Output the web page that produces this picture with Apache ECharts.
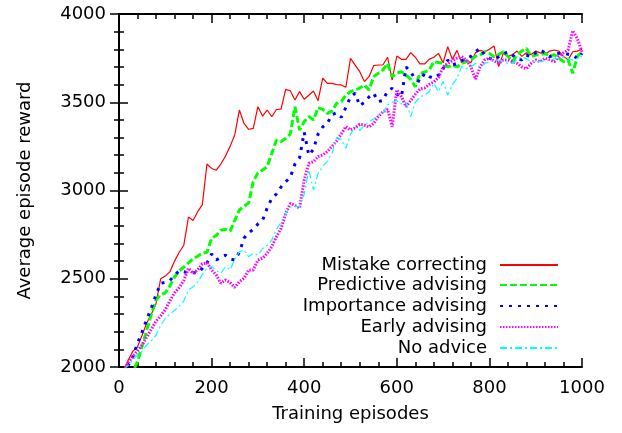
<!DOCTYPE html>
<html>
<head>
<meta charset="utf-8">
<script src="https://cdn.jsdelivr.net/npm/echarts@6/dist/echarts.min.js"></script>
<style>
  html, body { margin: 0; padding: 0; background: #fff; }
  #chart { width: 622px; height: 433px; }
</style>
</head>
<body>
<div id="chart"></div>
<script>
// training episodes (x), one sample every 10 episodes
var episodes = [
  10, 20, 30, 40, 50, 60, 70, 80, 90, 100,
  110, 120, 130, 140, 150, 160, 170, 180, 190, 200,
  210, 220, 230, 240, 250, 260, 270, 280, 290, 300,
  310, 320, 330, 340, 350, 360, 370, 380, 390, 400,
  410, 420, 430, 440, 450, 460, 470, 480, 490, 500,
  510, 520, 530, 540, 550, 560, 570, 580, 590, 600,
  610, 620, 630, 640, 650, 660, 670, 680, 690, 700,
  710, 720, 730, 740, 750, 760, 770, 780, 790, 800,
  810, 820, 830, 840, 850, 860, 870, 880, 890, 900,
  910, 920, 930, 940, 950, 960, 970, 980, 990, 1000
]

var mistakeCorrecting = [
  1980, 2040, 2090, 2115, 2180, 2250, 2300, 2360, 2500, 2515,
  2540, 2600, 2650, 2690, 2850, 2830, 2880, 2920, 3150, 3125,
  3115, 3150, 3195, 3250, 3315, 3456, 3380, 3347, 3352, 3475,
  3422, 3456, 3418, 3459, 3461, 3573, 3565, 3513, 3560, 3517,
  3540, 3564, 3509, 3636, 3607, 3607, 3600, 3598, 3585, 3749,
  3710, 3673, 3617, 3645, 3707, 3711, 3711, 3755, 3626, 3762,
  3743, 3743, 3781, 3755, 3717, 3717, 3743, 3755, 3777, 3724,
  3815, 3743, 3794, 3724, 3740, 3724, 3781, 3794, 3786, 3800,
  3819, 3702, 3777, 3760, 3770, 3790, 3760, 3780, 3770, 3790,
  3780, 3770, 3790, 3796, 3790, 3760, 3740, 3786, 3790, 3800
]

var predictiveAdvising = [
  1900, 1940, 1975, 2030, 2120, 2210, 2300, 2380, 2410, 2420,
  2460, 2510, 2545, 2565, 2590, 2612, 2628, 2645, 2650, 2730,
  2745, 2775, 2780, 2770, 2830, 2890, 2910, 2930, 3050, 3100,
  3116, 3135, 3210, 3285, 3277, 3295, 3320, 3475, 3343, 3390,
  3420, 3400, 3470, 3460, 3437, 3450, 3494, 3504, 3540, 3560,
  3570, 3580, 3598, 3570, 3645, 3664, 3683, 3720, 3645, 3665,
  3673, 3654, 3630, 3588, 3664, 3670, 3683, 3730, 3725, 3720,
  3700, 3710, 3700, 3720, 3730, 3740, 3760, 3768, 3786, 3777,
  3758, 3770, 3786, 3760, 3730, 3770, 3790, 3805, 3760, 3767,
  3770, 3777, 3760, 3770, 3750, 3730, 3740, 3664, 3760, 3786
]

var importanceAdvising = [
  1960, 2010, 2060, 2135, 2200, 2270, 2335, 2410, 2474, 2480,
  2490, 2520, 2545, 2540, 2534, 2534, 2534, 2559, 2590, 2640,
  2606, 2621, 2634, 2612, 2606, 2650, 2730, 2760, 2780, 2810,
  2830, 2900, 2955, 2980, 3020, 3050, 3075, 3150, 3185, 3330,
  3200, 3233, 3320, 3360, 3380, 3430, 3440, 3415, 3470, 3530,
  3551, 3480, 3500, 3530, 3551, 3504, 3510, 3565, 3579, 3545,
  3530, 3700, 3673, 3630, 3617, 3664, 3645, 3636, 3654, 3690,
  3739, 3711, 3720, 3735, 3748, 3760, 3786, 3805, 3767, 3750,
  3739, 3758, 3775, 3786, 3767, 3745, 3740, 3767, 3758, 3780,
  3796, 3780, 3758, 3770, 3777, 3777, 3772, 3767, 3748, 3777
]

var earlyAdvising = [
  1980, 2025, 2060, 2090, 2125, 2170, 2215, 2260, 2290, 2325,
  2375, 2420, 2450, 2490, 2560, 2530, 2550, 2585, 2590, 2550,
  2521, 2474, 2493, 2478, 2451, 2483, 2502, 2550, 2550, 2606,
  2616, 2644, 2682, 2738, 2785, 2870, 2927, 2915, 2900, 3059,
  3154, 3163, 3192, 3201, 3220, 3250, 3280, 3320, 3362, 3343,
  3355, 3375, 3371, 3360, 3380, 3420, 3445, 3460, 3362, 3570,
  3532, 3475, 3510, 3545, 3575, 3580, 3600, 3615, 3640, 3700,
  3720, 3735, 3750, 3758, 3740, 3700, 3630, 3700, 3740, 3750,
  3735, 3720, 3740, 3740, 3730, 3720, 3700, 3690, 3720, 3740,
  3730, 3750, 3740, 3730, 3760, 3780, 3796, 3905, 3860, 3786
]

var noAdvice = [
  1985, 2010, 2040, 2070, 2090, 2125, 2150, 2180, 2235, 2275,
  2300, 2320, 2345, 2375, 2436, 2455, 2480, 2525, 2560, 2570,
  2545, 2531, 2568, 2550, 2610, 2653, 2663, 2625, 2644, 2634,
  2670, 2690, 2720, 2780, 2820, 2870, 2905, 2910, 2908, 2980,
  3116, 3003, 3097, 3135, 3165, 3210, 3300, 3290, 3239, 3320,
  3360, 3340, 3370, 3390, 3405, 3428, 3437, 3485, 3500, 3510,
  3490, 3500, 3418, 3500, 3530, 3541, 3560, 3607, 3560, 3617,
  3541, 3600, 3636, 3702, 3690, 3700, 3720, 3700, 3720, 3730,
  3735, 3739, 3730, 3720, 3720, 3740, 3758, 3745, 3730, 3730,
  3730, 3735, 3739, 3745, 3750, 3758, 3750, 3739, 3750, 3760
]

var seriesNames = ['Mistake correcting', 'Predictive advising', 'Importance advising', 'Early advising', 'No advice']

var FONT = 'DejaVu Sans'

function pairs(values) {
  return episodes.map(function (x, i) {
    return [x, values[i]]
  })
}

function plain(v) {
  return String(v)
}

var chart = echarts.init(document.getElementById('chart'))

var xBase = {
  type: 'value',
  min: 0,
  max: 1000,
  interval: 200,
  axisLine: { show: true, lineStyle: { color: '#000', width: 2 } },
  axisTick: { show: true, inside: true, length: 9, lineStyle: { color: '#000', width: 1.5 } },
  minorTick: { show: true, splitNumber: 5, length: 5, lineStyle: { color: '#000', width: 1.5 } },
  splitLine: { show: false }
}
var yBase = {
  type: 'value',
  min: 2000,
  max: 4000,
  interval: 500,
  axisLine: { show: true, lineStyle: { color: '#000', width: 2 } },
  axisTick: { show: true, inside: true, length: 9, lineStyle: { color: '#000', width: 1.5 } },
  minorTick: { show: true, splitNumber: 5, length: 5, lineStyle: { color: '#000', width: 1.5 } },
  splitLine: { show: false }
}

var legendTops = [255, 275, 296, 317, 338]

chart.setOption({
  animation: false,
  backgroundColor: '#fff',
  textStyle: { fontFamily: FONT },
  grid: { left: 119, right: 40, top: 14, bottom: 66 },
  xAxis: [
    Object.assign({}, xBase, {
      position: 'bottom',
      name: 'Training episodes',
      nameLocation: 'middle',
      nameGap: 38,
      nameTextStyle: { fontSize: 18, color: '#000', fontFamily: FONT },
      axisLabel: { fontSize: 18, color: '#000', margin: 12, fontFamily: FONT, formatter: plain }
    }),
    Object.assign({}, xBase, { position: 'top', axisLabel: { show: false } })
  ],
  yAxis: [
    Object.assign({}, yBase, {
      position: 'left',
      name: 'Average episode reward',
      nameLocation: 'middle',
      nameGap: 85,
      nameTextStyle: { fontSize: 18, color: '#000', fontFamily: FONT },
      axisLabel: { fontSize: 18, color: '#000', margin: 13, fontFamily: FONT, formatter: plain }
    }),
    Object.assign({}, yBase, { position: 'right', axisLabel: { show: false } })
  ],
  legend: seriesNames.map(function (name, i) {
    return {
      data: [name],
      orient: 'vertical',
      align: 'right',
      right: 63,
      top: legendTops[i],
      padding: 0,
      itemWidth: 58,
      itemHeight: 12,
      selectedMode: false,
      itemStyle: { opacity: 0 },
      textStyle: { fontSize: 18, color: '#000', fontFamily: FONT, lineHeight: 20, padding: [0, 8, 0, 0] }
    }
  }),
  series: [
    {
      name: seriesNames[0],
      type: 'line',
      symbol: 'none',
      data: pairs(mistakeCorrecting),
      lineStyle: { color: '#ff0000', width: 1.2 },
      itemStyle: { color: '#ff0000' },
      z: 2
    },
    {
      name: seriesNames[1],
      type: 'line',
      symbol: 'none',
      data: pairs(predictiveAdvising),
      lineStyle: { color: '#00ff00', width: 3, type: [7, 3] },
      itemStyle: { color: '#00ff00' },
      z: 3
    },
    {
      name: seriesNames[2],
      type: 'line',
      symbol: 'none',
      data: pairs(importanceAdvising),
      lineStyle: { color: '#0000ff', width: 3, type: [3, 6] },
      itemStyle: { color: '#0000ff' },
      z: 4
    },
    {
      name: seriesNames[3],
      type: 'line',
      symbol: 'none',
      data: pairs(earlyAdvising),
      lineStyle: { color: '#ff00ff', width: 3, type: [1.5, 1.5] },
      itemStyle: { color: '#ff00ff' },
      z: 5
    },
    {
      name: seriesNames[4],
      type: 'line',
      symbol: 'none',
      data: pairs(noAdvice),
      lineStyle: { color: '#00ffff', width: 1.2, type: [7, 3, 2, 3] },
      itemStyle: { color: '#00ffff' },
      z: 6
    }
  ]
})
</script>
</body>
</html>
